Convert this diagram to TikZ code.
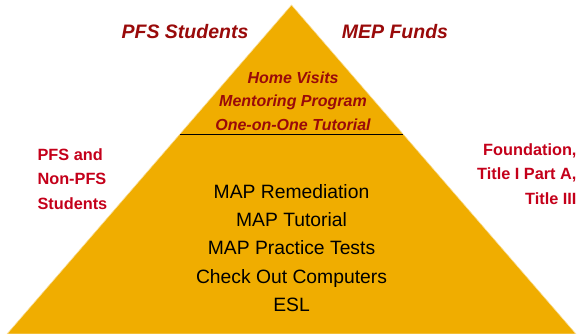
\documentclass[tikz,border=0pt]{standalone}
\usepackage{fontspec}
\setmainfont{Liberation Sans}
\usepackage{tikz}
\usetikzlibrary{calc}
\definecolor{pyramidgold}{HTML}{F0AD00}
\definecolor{darkred}{HTML}{990A0A}
\definecolor{labelred}{HTML}{C4001A}
\tikzset{
  headlabel/.style={text=darkred, font=\fontsize{19.5}{23}\selectfont\bfseries\itshape},
  toplist/.style={text=darkred, align=center, font=\fontsize{16}{23.5}\selectfont\bfseries\itshape},
  sidelabel/.style={text=labelred, font=\fontsize{16.3}{24.5}\selectfont\bfseries},
  baselist/.style={text=black, align=center, font=\fontsize{19.3}{28.3}\selectfont}
}

\begin{document}
\begin{tikzpicture}[x=1pt,y=-1pt]
    \useasboundingbox (0,0) rectangle (580,334);
    \coordinate (top) at (291.5,5); \coordinate (bl) at (7,334); \coordinate (br) at (576,334);
    \coordinate (cutL) at ($(top)!0.392!(bl)$); \coordinate (cutR) at ($(top)!0.392!(br)$);
    \draw[fill=pyramidgold, draw=pyramidgold!40, line width=0.6pt] (top) -- (bl) -- (br) -- cycle;
    \draw[line width=0.9pt] (cutL) -- (cutR);

    \node[headlabel] (students) at (185,32) {PFS Students};
    \node[headlabel] (funds)    at (395,32) {MEP Funds};

    \node[toplist] (services) at (293,101) {Home Visits\\Mentoring Program\\One-on-One Tutorial};
    \node[baselist] (mapwork) at (291.5,248) {MAP Remediation\\MAP Tutorial\\MAP Practice Tests\\Check Out Computers\\ESL};

    \node[sidelabel, align=left,  anchor=west] (allstudents) at (34,179) {PFS and\\Non-PFS\\Students};
    \node[sidelabel, align=right, anchor=east] (sources)     at (580,174) {Foundation,\\Title I Part A,\\Title III};
\end{tikzpicture}
\end{document}
